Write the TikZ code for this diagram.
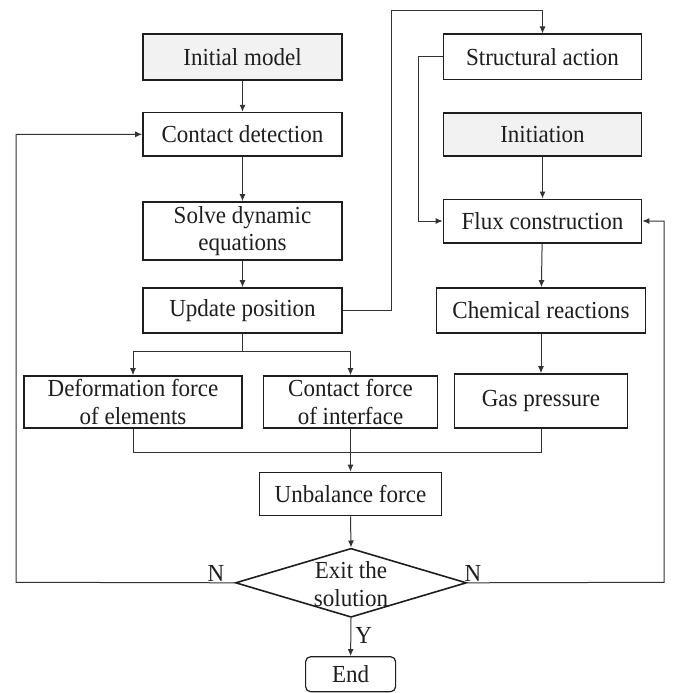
\documentclass[tikz,border=0pt]{standalone}
\usepackage{fontspec}
\setmainfont[FakeStretch=0.94]{Liberation Serif}
\usetikzlibrary{arrows.meta,shapes.geometric}
\definecolor{boxgray}{HTML}{F2F2F2}
\definecolor{ink}{HTML}{1E1E1E}
\definecolor{wire}{HTML}{333333}
\begin{document}
\begin{tikzpicture}[x=1pt,y=-1pt,
  every node/.style={font=\fontsize{24.5}{27.5}\selectfont, text=ink},
  box/.style={draw=ink, line width=1.6pt, rectangle, inner sep=0pt, align=center, fill=white},
  graybox/.style={box, fill=boxgray},
  diam/.style={draw=ink, line width=1.6pt, diamond, inner sep=0pt, minimum width=231pt, minimum height=69pt},
  endbox/.style={box, rounded corners=5pt, line width=1.2pt},
  conn/.style={draw=wire, line width=1pt},
  arr/.style={conn, -{Latex[length=7pt,width=6pt]}},
  lbl/.style={inner sep=0pt}
]
\useasboundingbox (0,0) rectangle (676,693);

% left column
\node[graybox, minimum width=199pt, minimum height=46pt] (init) at (242.5,57) {Initial model};
\node[box, minimum width=199pt, minimum height=43.5pt] (contact) at (242.5,134.3) {Contact detection};
\node[box, minimum width=199pt, minimum height=58pt] (solve) at (242.5,231) {Solve dynamic\\equations};
\node[box, minimum width=199pt, minimum height=45pt] (update) at (242.5,310.5) {Update position};

% right column
\node[box, minimum width=198pt, minimum height=45pt] (struct) at (542.5,56.8) {Structural action};
\node[graybox, minimum width=198pt, minimum height=43pt] (initiation) at (542.5,134.2) {Initiation};
\node[box, minimum width=198pt, minimum height=43.4pt] (flux) at (542.5,221) {Flux construction};
\node[box, minimum width=209pt, minimum height=45pt] (chem) at (541,310.5) {Chemical reactions};

% force row
\node[box, minimum width=218pt, minimum height=52pt] (deform) at (133,402) {Deformation force\\of elements};
\node[box, minimum width=174pt, minimum height=52pt] (cforce) at (350.5,402) {Contact force\\of interface};
\node[box, minimum width=173pt, minimum height=54pt] (gas) at (541,401) {Gas pressure};

\node[box, minimum width=182pt, minimum height=43pt] (unb) at (350.5,494) {Unbalance force};

\node[diam] (dia) at (351,582.8) {};
\node[lbl, align=center] (diatext) at (351,584) {Exit the\\solution};

\node[endbox, minimum width=90pt, minimum height=35pt] (end) at (350.6,674.2) {End};

% coordinates
\coordinate (split) at (242.5,351.7);
\coordinate (merge) at (350.5,452.3);
\coordinate (upA) at (391,310.5);
\coordinate (upB) at (391,10.7);
\coordinate (stA) at (418.3,56.8);
\coordinate (lloop) at (16,582.3);
\coordinate (rloop) at (664,582.3);

% connectors
\draw[arr] (init) -- (contact);
\draw[arr] (contact) -- (solve);
\draw[arr] (solve) -- (update);
\draw[conn] (update.south) -- (split);
\draw[arr] (split) -| (deform.north);
\draw[arr] (split) -| (cforce.north);

\draw[arr] (update.east) -- (upA) -- (upB) -| (struct.north);
\draw[arr] (struct.west) -- (stA) |- (flux.west);
\draw[arr] (initiation) -- (flux);
\draw[arr] (flux) -- (chem);
\draw[arr] (chem) -- (gas);

\draw[conn] (deform.south) |- (merge) -| (gas.south);
\draw[arr] (cforce.south) -- (unb.north);
\draw[arr] (unb.south) -- (dia.north);

\draw[arr] (dia.west) -- (lloop) |- (contact.west);
\draw[arr] (dia.east) -- (rloop) |- (flux.east);
\draw[arr] (dia.south) -- node[lbl, right=4pt, pos=0.45] (ylab) {Y} (end.north);

\node[lbl] (nleft) at (216,573) {N};
\node[lbl] (nright) at (473,573) {N};
\end{tikzpicture}
\end{document}
